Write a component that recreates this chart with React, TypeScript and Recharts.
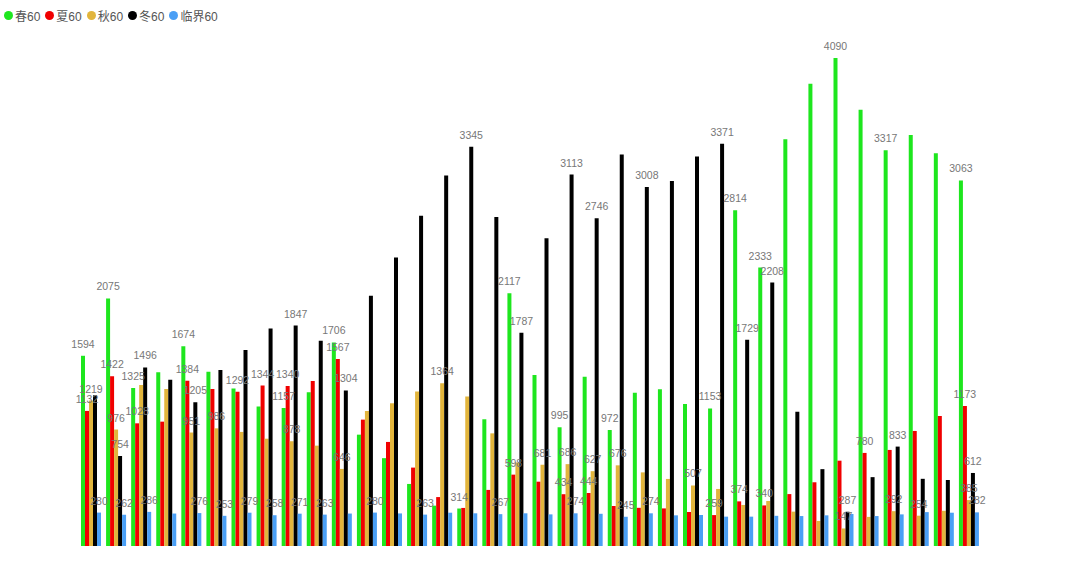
import { Bar, BarChart, LabelList, XAxis, YAxis } from "recharts";

// 36 groups, no visible category axis
const categories = [
  "1", "2", "3", "4", "5", "6", "7", "8", "9", "10", "11", "12",
  "13", "14", "15", "16", "17", "18", "19", "20", "21", "22", "23", "24",
  "25", "26", "27", "28", "29", "30", "31", "32", "33", "34", "35", "36",
];

const seriesNames = ["春60", "夏60", "秋60", "冬60", "临界60"];
const colors = ["#1ee61e", "#f00000", "#e2b53c", "#000000", "#4a9ff5"];

const spring = [
  1594, 2075, 1325, 1456, 1674, 1461, 1319, 1168, 1157, 1288, 1706, 933,
  736, 520, 338, 314, 1062, 2117, 1433, 995, 1419, 972, 1285, 1313,
  1190, 1153, 2814, 2333, 3409, 3873, 4090, 3655, 3317, 3445, 3291, 3063,
];
const summer = [
  1132, 1422, 1028, 1042, 1384, 1316, 1292, 1344, 1340, 1383, 1567, 1059,
  872, 657, 410, 319, 470, 598, 539, 434, 444, 335, 320, 315,
  285, 259, 374, 340, 435, 534, 715, 780, 805, 964, 1090, 1173,
];
const autumn = [
  1219, 976, 1350, 1316, 951, 986, 956, 899, 878, 841, 646, 1132,
  1196, 1294, 1364, 1252, 944, 700, 681, 686, 627, 676, 617, 562,
  507, 478, 344, 377, 288, 210, 147, 244, 292, 254, 295, 385,
];
const winter = [
  1263, 754, 1496, 1394, 1205, 1475, 1643, 1822, 1847, 1721, 1304, 2098,
  2417, 2767, 3104, 3345, 2758, 1787, 2579, 3113, 2746, 3280, 3008, 3059,
  3263, 3371, 1729, 2208, 1126, 644, 287, 577, 833, 563, 553, 612,
];
const critical = [
  280, 262, 286, 272, 276, 253, 279, 258, 271, 263, 272, 280,
  273, 263, 279, 274, 267, 274, 265, 274, 270, 245, 274, 257,
  260, 246, 246, 253, 251, 257, 268, 251, 265, 284, 279, 282,
];

// which groups keep their value label visible (the rest were hidden as overlapping)
const springShown = [0, 1, 2, 4, 8, 10, 15, 17, 19, 21, 25, 26, 27, 30, 32, 35];
const summerShown = [0, 1, 2, 4, 6, 7, 8, 10, 17, 19, 20, 25, 26, 27, 31, 35];
const autumnShown = [0, 1, 4, 5, 8, 10, 14, 18, 19, 20, 21, 24, 30, 32, 33, 35];
const winterShown = [1, 2, 4, 8, 10, 15, 17, 19, 20, 22, 25, 26, 27, 30, 32, 35];
const criticalShown = [0, 1, 2, 4, 5, 6, 7, 8, 9, 11, 13, 16, 19, 21, 22, 35];

const valueLists = [spring, summer, autumn, winter, critical];
const shownLists = [springShown, summerShown, autumnShown, winterShown, criticalShown];

const chartData = categories.map((name, i) => {
  const row: Record<string, string | number | undefined> = { name };
  valueLists.forEach((list, s) => {
    row[`s${s}`] = list[i];
    row[`l${s}`] = shownLists[s].includes(i) ? list[i] : undefined;
  });
  return row;
});

const Legend = () => (
  <div
    style={{
      position: "absolute",
      top: 6,
      left: 4,
      display: "flex",
      alignItems: "center",
      height: 18,
      fontSize: 12,
      color: "#555",
      fontFamily: "'Liberation Sans', 'Noto Sans CJK SC', sans-serif",
    }}
  >
    {seriesNames.map((n, s) => (
      <div key={n} style={{ display: "flex", alignItems: "center", marginRight: 5 }}>
        <span
          style={{
            width: 9,
            height: 9,
            borderRadius: "50%",
            background: colors[s],
            marginRight: 2,
            display: "inline-block",
          }}
        />
        <span>{n}</span>
      </div>
    ))}
  </div>
);

export default function App() {
  return (
    <div style={{ position: "absolute", top: 0, left: 0, width: 1080, height: 561, background: "#fff" }}>
      <BarChart
        width={1080}
        height={561}
        data={chartData}
        margin={{ top: 9, right: 99, bottom: 15, left: 78 }}
        barGap={0}
        barCategoryGap="10%"
      >
        <XAxis dataKey="name" hide />
        <YAxis hide domain={[0, 4500]} allowDataOverflow />
        {seriesNames.map((n, s) => (
          <Bar key={n} dataKey={`s${s}`} name={n} fill={colors[s]} barSize={4} isAnimationActive={false}>
            <LabelList
              dataKey={`l${s}`}
              position="top"
              offset={8}
              fill="#777"
              fontSize={10.5}
              fontFamily="'Liberation Sans', sans-serif"
            />
          </Bar>
        ))}
      </BarChart>
      <Legend />
    </div>
  );
}
